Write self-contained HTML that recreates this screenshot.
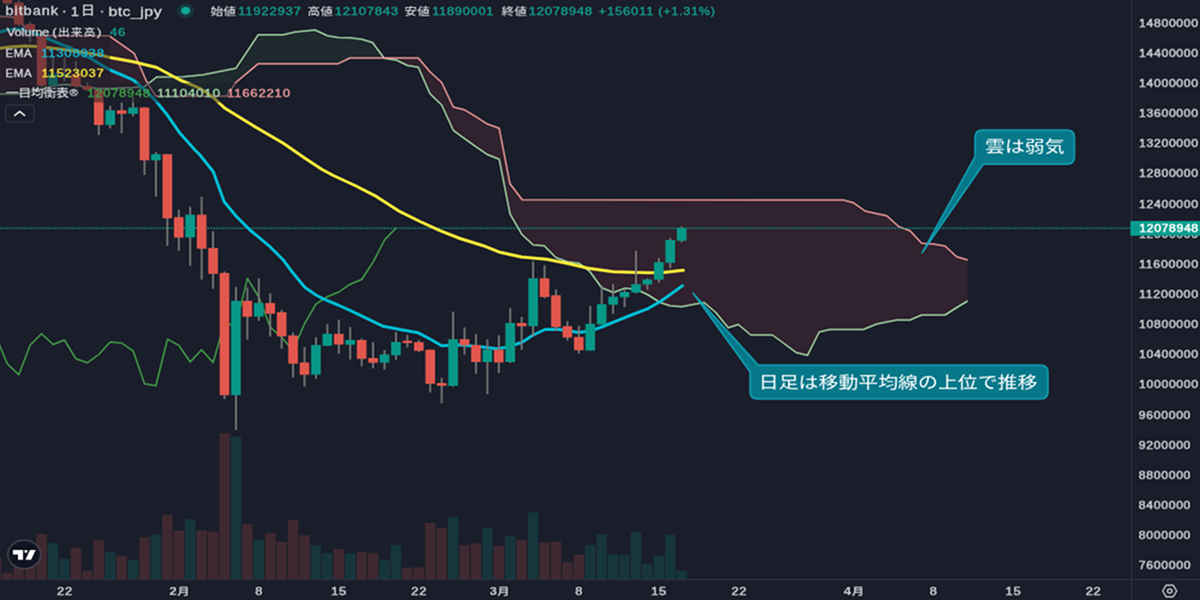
<!DOCTYPE html>
<html lang="ja">
<head>
<meta charset="utf-8">
<title>bitbank · 1日 · btc_jpy</title>
<style>
html,body{margin:0;padding:0;background:#1a1e2a;}
body{width:1200px;height:600px;overflow:hidden;font-family:"Liberation Sans","Noto Sans CJK JP",sans-serif;}
svg{display:block;}
text{white-space:pre;}
</style>
</head>
<body>
<svg width="1200" height="600" viewBox="0 0 1200 600">
<defs><clipPath id="pane"><rect x="-30" y="-30" width="1161" height="609"/></clipPath>
<filter id="soft" filterUnits="userSpaceOnUse" x="-30" y="-30" width="1260" height="660" color-interpolation-filters="sRGB">
<feConvolveMatrix in="SourceGraphic" order="5" kernelMatrix="0.00810 -0.02250 -0.06120 -0.02250 0.00810 -0.02250 0.06250 0.17000 0.06250 -0.02250 -0.06120 0.17000 0.46240 0.17000 -0.06120 -0.02250 0.06250 0.17000 0.06250 -0.02250 0.00810 -0.02250 -0.06120 -0.02250 0.00810" divisor="1" edgeMode="duplicate" preserveAlpha="true"/>
</filter></defs>
<g id="root" filter="url(#soft)">
<rect x="-30" y="-30" width="1260" height="660" fill="#1a1e2a"/>
<g id="chart" clip-path="url(#pane)">
<rect x="-9.30" y="557.0" width="10.4" height="22.0" fill="#3f2931"/>
<rect x="2.13" y="573.0" width="10.4" height="6.0" fill="#3f2931"/>
<rect x="13.56" y="566.0" width="10.4" height="13.0" fill="#3f2931"/>
<rect x="24.99" y="566.0" width="10.4" height="13.0" fill="#3f2931"/>
<rect x="36.42" y="534.0" width="10.4" height="45.0" fill="#3f2931"/>
<rect x="47.85" y="543.0" width="10.4" height="36.0" fill="#17353d"/>
<rect x="59.28" y="559.0" width="10.4" height="20.0" fill="#17353d"/>
<rect x="70.71" y="547.8" width="10.4" height="31.2" fill="#3f2931"/>
<rect x="82.14" y="571.0" width="10.4" height="8.0" fill="#3f2931"/>
<rect x="93.57" y="540.3" width="10.4" height="38.7" fill="#3f2931"/>
<rect x="105.00" y="552.0" width="10.4" height="27.0" fill="#17353d"/>
<rect x="116.43" y="556.2" width="10.4" height="22.8" fill="#3f2931"/>
<rect x="127.86" y="560.0" width="10.4" height="19.0" fill="#17353d"/>
<rect x="139.29" y="537.3" width="10.4" height="41.7" fill="#3f2931"/>
<rect x="150.72" y="534.3" width="10.4" height="44.7" fill="#17353d"/>
<rect x="162.15" y="515.0" width="10.4" height="64.0" fill="#3f2931"/>
<rect x="173.58" y="530.7" width="10.4" height="48.3" fill="#3f2931"/>
<rect x="185.01" y="519.3" width="10.4" height="59.7" fill="#17353d"/>
<rect x="196.44" y="530.3" width="10.4" height="48.7" fill="#3f2931"/>
<rect x="207.87" y="531.7" width="10.4" height="47.3" fill="#3f2931"/>
<rect x="219.30" y="433.3" width="10.4" height="145.7" fill="#3f2931"/>
<rect x="230.73" y="436.7" width="10.4" height="142.3" fill="#17353d"/>
<rect x="242.16" y="524.3" width="10.4" height="54.7" fill="#3f2931"/>
<rect x="253.59" y="540.0" width="10.4" height="39.0" fill="#17353d"/>
<rect x="265.02" y="533.3" width="10.4" height="45.7" fill="#3f2931"/>
<rect x="276.45" y="541.7" width="10.4" height="37.3" fill="#3f2931"/>
<rect x="287.88" y="520.0" width="10.4" height="59.0" fill="#3f2931"/>
<rect x="299.31" y="535.3" width="10.4" height="43.7" fill="#3f2931"/>
<rect x="310.74" y="545.7" width="10.4" height="33.3" fill="#17353d"/>
<rect x="322.17" y="553.0" width="10.4" height="26.0" fill="#17353d"/>
<rect x="333.60" y="549.0" width="10.4" height="30.0" fill="#3f2931"/>
<rect x="345.03" y="553.3" width="10.4" height="25.7" fill="#17353d"/>
<rect x="356.46" y="552.0" width="10.4" height="27.0" fill="#3f2931"/>
<rect x="367.89" y="553.3" width="10.4" height="25.7" fill="#3f2931"/>
<rect x="379.32" y="559.7" width="10.4" height="19.3" fill="#17353d"/>
<rect x="390.75" y="545.0" width="10.4" height="34.0" fill="#17353d"/>
<rect x="402.18" y="567.7" width="10.4" height="11.3" fill="#3f2931"/>
<rect x="413.61" y="567.3" width="10.4" height="11.7" fill="#3f2931"/>
<rect x="425.04" y="523.0" width="10.4" height="56.0" fill="#3f2931"/>
<rect x="436.47" y="528.0" width="10.4" height="51.0" fill="#3f2931"/>
<rect x="447.90" y="517.0" width="10.4" height="62.0" fill="#17353d"/>
<rect x="459.33" y="545.0" width="10.4" height="34.0" fill="#3f2931"/>
<rect x="470.76" y="543.3" width="10.4" height="35.7" fill="#3f2931"/>
<rect x="482.19" y="527.7" width="10.4" height="51.3" fill="#17353d"/>
<rect x="493.62" y="546.0" width="10.4" height="33.0" fill="#3f2931"/>
<rect x="505.05" y="536.0" width="10.4" height="43.0" fill="#17353d"/>
<rect x="516.48" y="540.0" width="10.4" height="39.0" fill="#3f2931"/>
<rect x="527.91" y="512.3" width="10.4" height="66.7" fill="#17353d"/>
<rect x="539.34" y="542.3" width="10.4" height="36.7" fill="#3f2931"/>
<rect x="550.77" y="541.7" width="10.4" height="37.3" fill="#3f2931"/>
<rect x="562.20" y="562.3" width="10.4" height="16.7" fill="#3f2931"/>
<rect x="573.63" y="554.7" width="10.4" height="24.3" fill="#3f2931"/>
<rect x="585.06" y="545.0" width="10.4" height="34.0" fill="#17353d"/>
<rect x="596.49" y="534.3" width="10.4" height="44.7" fill="#17353d"/>
<rect x="607.92" y="554.3" width="10.4" height="24.7" fill="#17353d"/>
<rect x="619.35" y="554.7" width="10.4" height="24.3" fill="#17353d"/>
<rect x="630.78" y="532.0" width="10.4" height="47.0" fill="#17353d"/>
<rect x="642.21" y="563.7" width="10.4" height="15.3" fill="#17353d"/>
<rect x="653.64" y="556.0" width="10.4" height="23.0" fill="#17353d"/>
<rect x="665.07" y="534.7" width="10.4" height="44.3" fill="#17353d"/>
<rect x="676.50" y="570.7" width="10.4" height="8.3" fill="#17353d"/>
<polygon points="-5.0,94.0 13.0,94.0 18.8,94.0 25.0,92.9 30.3,92.0 36.0,90.5 41.7,89.0 53.1,86.0 64.5,84.5 76.0,85.0 87.4,87.5 98.8,88.5 109.2,88.5 110.3,88.5 121.7,88.0 133.1,87.5 134.2,87.4 144.5,86.7 146.7,85.0 148.1,83.9 148.1,83.9 146.7,81.7 144.5,76.7 134.2,53.3 133.1,52.5 121.7,44.6 110.3,36.6 109.2,35.8 98.8,35.8 87.4,35.8 76.0,35.8 64.5,35.8 53.1,35.8 41.7,35.8 36.0,35.8 30.3,31.0 25.0,27.0 18.8,21.0 13.0,17.0 -5.0,16.0" fill="#30222e"/>
<polygon points="148.1,83.9 155.8,77.7 156.7,77.0 183.3,76.7 203.3,74.7 226.7,70.1 235.8,68.3 258.3,34.7 283.3,34.7 295.0,32.0 315.0,30.0 327.5,35.8 338.3,37.5 350.0,37.8 361.7,39.2 372.5,42.5 384.0,58.0 384.0,58.0 372.5,58.0 361.7,58.0 350.0,58.0 338.3,63.7 327.5,63.7 315.0,63.7 295.0,63.7 283.3,63.7 258.3,63.7 235.8,82.5 226.7,96.3 203.3,96.3 183.3,96.3 156.7,96.3 155.8,96.3 148.1,83.9" fill="#1f2a2e"/>
<polygon points="384.0,58.0 384.2,58.3 396.7,60.3 407.5,65.5 418.3,67.2 430.0,93.7 441.7,105.0 453.3,130.3 464.2,138.3 475.8,146.7 486.7,154.2 499.2,159.2 510.0,213.8 521.7,234.2 522.2,234.7 533.3,245.0 544.2,245.8 555.8,257.5 567.5,261.7 579.2,263.3 590.0,271.7 601.7,287.8 613.3,292.5 625.0,288.3 636.0,289.3 647.4,294.5 660.0,302.5 670.0,305.8 681.7,306.7 693.0,304.5 704.2,302.5 715.8,312.5 728.3,327.8 738.3,324.5 750.8,335.0 772.5,335.0 784.6,344.0 796.7,352.8 807.5,355.3 819.2,332.0 830.0,329.5 843.3,329.5 853.3,329.5 863.3,329.5 865.0,328.8 876.0,324.3 876.7,324.0 886.7,322.0 896.7,320.0 899.0,320.0 910.0,320.0 921.7,315.0 933.3,315.0 945.0,315.0 956.0,308.0 956.7,307.6 967.7,301.0 967.7,260.0 956.7,256.7 956.0,256.1 945.0,246.0 933.3,244.0 921.7,243.3 910.0,230.7 899.0,226.7 896.7,224.6 886.7,215.7 876.7,213.6 876.0,213.5 865.0,211.0 863.3,209.8 853.3,202.7 843.3,200.0 830.0,200.0 819.2,200.0 807.5,200.0 796.7,200.0 784.6,199.9 772.5,199.9 750.8,199.9 738.3,199.9 728.3,199.9 715.8,199.9 704.2,199.9 693.0,199.9 681.7,199.8 670.0,199.8 660.0,199.8 647.4,199.8 636.0,199.8 625.0,199.8 613.3,199.8 601.7,199.8 590.0,199.8 579.2,199.8 567.5,199.7 555.8,199.7 544.2,199.7 533.3,199.7 522.2,199.7 521.7,199.0 510.0,183.8 499.2,128.3 486.7,123.7 475.8,116.7 464.2,109.7 453.3,107.0 441.7,82.5 430.0,71.7 418.3,58.0 407.5,58.0 396.7,58.0 384.2,58.0 384.0,58.0" fill="#30222e"/>
<polyline points="-5.0,94.0 18.8,94.0 30.3,92.0 41.7,89.0 53.1,86.0 64.5,84.5 76.0,85.0 87.4,87.5 98.8,88.5 110.3,88.5 121.7,88.0 133.1,87.5 144.5,86.7 156.7,77.0 183.3,76.7 203.3,74.7 235.8,68.3 258.3,34.7 283.3,34.7 295.0,32.0 315.0,30.0 327.5,35.8 338.3,37.5 350.0,37.8 361.7,39.2 372.5,42.5 384.2,58.3 396.7,60.3 407.5,65.5 418.3,67.2 430.0,93.7 441.7,105.0 453.3,130.3 464.2,138.3 475.8,146.7 486.7,154.2 499.2,159.2 510.0,213.8 521.7,234.2 533.3,245.0 544.2,245.8 555.8,257.5 567.5,261.7 579.2,263.3 590.0,271.7 601.7,287.8 613.3,292.5 625.0,288.3 636.0,289.3 647.4,294.5 660.0,302.5 670.0,305.8 681.7,306.7 693.0,304.5 704.2,302.5 715.8,312.5 728.3,327.8 738.3,324.5 750.8,335.0 772.5,335.0 784.6,344.0 796.7,352.8 807.5,355.3 819.2,332.0 830.0,329.5 863.3,329.5 876.7,324.0 896.7,320.0 910.0,320.0 921.7,315.0 945.0,315.0 956.0,308.0 967.7,301.0" fill="none" stroke="#a5d6a7" stroke-width="1.5" stroke-linejoin="round"/>
<polyline points="-5.0,16.0 13.0,17.0 18.8,21.0 25.0,27.0 30.3,31.0 36.0,35.8 109.2,35.8 134.2,53.3 146.7,81.7 155.8,96.3 226.7,96.3 235.8,82.5 258.3,63.7 338.3,63.7 350.0,58.0 418.3,58.0 430.0,71.7 441.7,82.5 453.3,107.0 464.2,109.7 475.8,116.7 486.7,123.7 499.2,128.3 510.0,183.8 522.2,199.7 843.3,200.0 853.3,202.7 865.0,211.0 876.0,213.5 886.7,215.7 899.0,226.7 910.0,230.7 921.7,243.3 933.3,244.0 945.0,246.0 956.7,256.7 967.7,260.0" fill="none" stroke="#ef9a9a" stroke-width="1.5" stroke-linejoin="round"/>
<polyline points="-15.5,313.7 -4.1,336.3 7.3,363.7 18.8,374.7 30.2,345.0 41.6,333.8 53.1,344.5 64.5,340.0 75.9,358.8 87.3,362.8 98.8,354.5 110.2,342.0 121.6,343.0 133.1,350.8 144.5,383.8 155.9,385.8 167.4,339.2 178.8,345.3 190.2,362.0 201.6,349.7 213.1,362.5 224.5,323.0 235.9,326.3 247.4,278.3 258.8,297.0 270.2,327.0 281.7,337.5 293.1,350.3 304.5,323.8 315.9,304.2 327.4,296.7 338.8,292.0 350.2,284.2 361.7,279.5 373.1,262.2 384.5,240.0 396.0,228.0" fill="none" stroke="#43a047" stroke-width="1.5" stroke-linejoin="round"/>
<line x1="-29.65" y1="228.25" x2="1129.5" y2="228.25" stroke="#129a8d" stroke-width="1.6" stroke-dasharray="1.5 1.5"/>
<polyline points="-3.0,33.3 0.0,32.0 5.0,30.6 10.0,29.8 15.0,29.2 22.0,29.2 33.0,32.4 47.0,38.5 64.0,45.5 70.0,47.5 83.3,55.0 90.0,58.0 99.0,63.5 110.0,70.0 122.0,75.0 133.3,80.0 145.0,90.0 150.0,95.0 156.0,101.0 166.7,114.2 180.0,133.3 195.0,150.0 200.0,155.0 213.3,171.7 224.2,201.7 236.0,216.0 250.0,230.0 270.0,246.7 283.3,260.0 293.0,273.0 305.0,287.5 316.0,295.0 323.3,298.8 338.0,305.0 350.0,310.4 366.7,318.3 383.3,326.3 400.0,329.5 418.3,332.8 430.0,339.0 441.7,345.8 458.3,344.7 470.0,345.8 487.0,347.5 496.7,348.8 505.0,347.5 510.0,346.0 521.7,342.5 533.3,335.0 545.0,329.5 556.7,329.2 567.0,330.5 578.3,332.5 590.0,331.0 601.7,327.0 616.7,320.8 630.0,315.5 646.7,309.2 660.0,301.7 671.0,294.0 682.5,285.8" fill="none" stroke="#00bcd4" stroke-width="3" stroke-linejoin="round" stroke-linecap="round"/>
<polyline points="-3.0,48.6 0.0,48.3 10.0,47.0 25.0,46.0 37.0,46.5 60.0,49.0 80.0,52.0 100.0,55.0 110.0,57.5 133.3,61.7 156.7,67.5 180.0,80.0 200.0,88.3 213.3,97.5 225.0,108.3 255.0,126.7 283.3,143.3 305.0,158.3 321.7,169.2 333.3,175.5 355.0,185.5 376.7,196.7 400.0,211.7 420.0,221.5 440.0,230.7 460.0,238.5 483.3,245.7 500.0,252.3 521.7,257.0 546.7,259.2 566.7,263.3 588.3,268.3 613.3,271.7 646.7,272.8 663.3,272.5 683.3,270.3" fill="none" stroke="#ffeb3b" stroke-width="3" stroke-linejoin="round" stroke-linecap="round"/>
<rect x="6.43" y="-10.0" width="1.8" height="15.0" fill="#787878"/>
<rect x="2.53" y="-10.0" width="9.6" height="13.5" fill="#e2574d"/>
<rect x="17.86" y="0.0" width="1.8" height="26.0" fill="#787878"/>
<rect x="13.96" y="2.5" width="9.6" height="22.0" fill="#e2574d"/>
<rect x="29.29" y="22.0" width="1.8" height="20.0" fill="#787878"/>
<rect x="25.39" y="24.0" width="9.6" height="6.7" fill="#e2574d"/>
<rect x="40.72" y="34.0" width="1.8" height="53.0" fill="#787878"/>
<rect x="36.82" y="36.0" width="9.6" height="49.5" fill="#e2574d"/>
<rect x="52.15" y="57.0" width="1.8" height="30.0" fill="#787878"/>
<rect x="48.25" y="73.5" width="9.6" height="12.0" fill="#089888"/>
<rect x="63.58" y="57.0" width="1.8" height="24.0" fill="#787878"/>
<rect x="59.68" y="74.0" width="9.6" height="2.0" fill="#089888"/>
<rect x="75.01" y="61.0" width="1.8" height="27.0" fill="#787878"/>
<rect x="71.11" y="74.0" width="9.6" height="12.5" fill="#e2574d"/>
<rect x="86.44" y="82.0" width="1.8" height="9.0" fill="#787878"/>
<rect x="82.54" y="86.0" width="9.6" height="4.0" fill="#e2574d"/>
<rect x="97.87" y="88.0" width="1.8" height="47.0" fill="#787878"/>
<rect x="93.97" y="89.5" width="9.6" height="35.5" fill="#e2574d"/>
<rect x="109.30" y="105.8" width="1.8" height="22.5" fill="#787878"/>
<rect x="105.40" y="110.3" width="9.6" height="14.7" fill="#089888"/>
<rect x="120.73" y="102.5" width="1.8" height="30.8" fill="#787878"/>
<rect x="116.83" y="110.3" width="9.6" height="3.5" fill="#e2574d"/>
<rect x="132.16" y="96.7" width="1.8" height="19.6" fill="#787878"/>
<rect x="128.26" y="107.5" width="9.6" height="6.3" fill="#089888"/>
<rect x="143.59" y="107.5" width="1.8" height="67.5" fill="#787878"/>
<rect x="139.69" y="107.5" width="9.6" height="52.8" fill="#e2574d"/>
<rect x="155.02" y="152.0" width="1.8" height="44.7" fill="#787878"/>
<rect x="151.12" y="154.2" width="9.6" height="6.1" fill="#089888"/>
<rect x="166.45" y="154.2" width="1.8" height="91.6" fill="#787878"/>
<rect x="162.55" y="154.2" width="9.6" height="64.1" fill="#e2574d"/>
<rect x="177.88" y="209.7" width="1.8" height="41.1" fill="#787878"/>
<rect x="173.98" y="217.2" width="9.6" height="20.4" fill="#e2574d"/>
<rect x="189.31" y="206.7" width="1.8" height="59.1" fill="#787878"/>
<rect x="185.41" y="214.7" width="9.6" height="22.8" fill="#089888"/>
<rect x="200.74" y="196.7" width="1.8" height="83.0" fill="#787878"/>
<rect x="196.84" y="214.7" width="9.6" height="34.0" fill="#e2574d"/>
<rect x="212.17" y="231.3" width="1.8" height="57.4" fill="#787878"/>
<rect x="208.27" y="248.0" width="9.6" height="25.8" fill="#e2574d"/>
<rect x="223.60" y="271.3" width="1.8" height="127.7" fill="#787878"/>
<rect x="219.70" y="273.0" width="9.6" height="122.2" fill="#e2574d"/>
<rect x="235.03" y="287.0" width="1.8" height="143.0" fill="#787878"/>
<rect x="231.13" y="300.8" width="9.6" height="94.4" fill="#089888"/>
<rect x="246.46" y="287.5" width="1.8" height="52.2" fill="#787878"/>
<rect x="242.56" y="300.8" width="9.6" height="15.9" fill="#e2574d"/>
<rect x="257.89" y="278.3" width="1.8" height="42.5" fill="#787878"/>
<rect x="253.99" y="303.0" width="9.6" height="13.7" fill="#089888"/>
<rect x="269.32" y="293.3" width="1.8" height="43.4" fill="#787878"/>
<rect x="265.42" y="303.0" width="9.6" height="10.7" fill="#e2574d"/>
<rect x="280.75" y="309.7" width="1.8" height="39.1" fill="#787878"/>
<rect x="276.85" y="312.2" width="9.6" height="24.1" fill="#e2574d"/>
<rect x="292.18" y="332.5" width="1.8" height="45.0" fill="#787878"/>
<rect x="288.28" y="335.5" width="9.6" height="28.2" fill="#e2574d"/>
<rect x="303.61" y="347.0" width="1.8" height="39.7" fill="#787878"/>
<rect x="299.71" y="362.5" width="9.6" height="12.2" fill="#e2574d"/>
<rect x="315.04" y="337.2" width="1.8" height="41.5" fill="#787878"/>
<rect x="311.14" y="345.0" width="9.6" height="29.7" fill="#089888"/>
<rect x="326.47" y="324.2" width="1.8" height="21.6" fill="#787878"/>
<rect x="322.57" y="333.8" width="9.6" height="12.0" fill="#089888"/>
<rect x="337.90" y="319.7" width="1.8" height="34.1" fill="#787878"/>
<rect x="334.00" y="333.8" width="9.6" height="10.7" fill="#e2574d"/>
<rect x="349.33" y="327.0" width="1.8" height="32.5" fill="#787878"/>
<rect x="345.43" y="340.0" width="9.6" height="4.7" fill="#089888"/>
<rect x="360.76" y="338.3" width="1.8" height="28.0" fill="#787878"/>
<rect x="356.86" y="340.0" width="9.6" height="18.8" fill="#e2574d"/>
<rect x="372.19" y="342.2" width="1.8" height="26.1" fill="#787878"/>
<rect x="368.29" y="358.0" width="9.6" height="4.8" fill="#e2574d"/>
<rect x="383.62" y="350.0" width="1.8" height="19.7" fill="#787878"/>
<rect x="379.72" y="354.5" width="9.6" height="8.1" fill="#089888"/>
<rect x="395.05" y="332.0" width="1.8" height="27.7" fill="#787878"/>
<rect x="391.15" y="342.0" width="9.6" height="13.3" fill="#089888"/>
<rect x="406.48" y="334.7" width="1.8" height="12.8" fill="#787878"/>
<rect x="402.58" y="340.8" width="9.6" height="2.2" fill="#e2574d"/>
<rect x="417.91" y="340.0" width="1.8" height="12.0" fill="#787878"/>
<rect x="414.01" y="342.2" width="9.6" height="8.6" fill="#e2574d"/>
<rect x="429.34" y="349.7" width="1.8" height="42.8" fill="#787878"/>
<rect x="425.44" y="349.7" width="9.6" height="34.1" fill="#e2574d"/>
<rect x="440.77" y="377.8" width="1.8" height="25.5" fill="#787878"/>
<rect x="436.87" y="383.0" width="9.6" height="2.8" fill="#e2574d"/>
<rect x="452.20" y="311.7" width="1.8" height="75.0" fill="#787878"/>
<rect x="448.30" y="339.2" width="9.6" height="46.6" fill="#089888"/>
<rect x="463.63" y="327.5" width="1.8" height="27.2" fill="#787878"/>
<rect x="459.73" y="339.2" width="9.6" height="6.1" fill="#e2574d"/>
<rect x="475.06" y="334.2" width="1.8" height="39.5" fill="#787878"/>
<rect x="471.16" y="345.0" width="9.6" height="17.0" fill="#e2574d"/>
<rect x="486.49" y="339.2" width="1.8" height="55.0" fill="#787878"/>
<rect x="482.59" y="349.7" width="9.6" height="12.3" fill="#089888"/>
<rect x="497.92" y="335.3" width="1.8" height="37.7" fill="#787878"/>
<rect x="494.02" y="349.7" width="9.6" height="12.8" fill="#e2574d"/>
<rect x="509.35" y="308.0" width="1.8" height="55.0" fill="#787878"/>
<rect x="505.45" y="323.0" width="9.6" height="39.0" fill="#089888"/>
<rect x="520.78" y="317.0" width="1.8" height="33.0" fill="#787878"/>
<rect x="516.88" y="323.0" width="9.6" height="3.3" fill="#e2574d"/>
<rect x="532.21" y="261.3" width="1.8" height="75.7" fill="#787878"/>
<rect x="528.31" y="278.3" width="9.6" height="47.9" fill="#089888"/>
<rect x="543.64" y="265.3" width="1.8" height="33.0" fill="#787878"/>
<rect x="539.74" y="278.3" width="9.6" height="18.7" fill="#e2574d"/>
<rect x="555.07" y="289.5" width="1.8" height="41.3" fill="#787878"/>
<rect x="551.17" y="295.3" width="9.6" height="31.7" fill="#e2574d"/>
<rect x="566.50" y="321.2" width="1.8" height="19.3" fill="#787878"/>
<rect x="562.60" y="326.2" width="9.6" height="11.3" fill="#e2574d"/>
<rect x="577.93" y="325.8" width="1.8" height="27.9" fill="#787878"/>
<rect x="574.03" y="337.0" width="9.6" height="13.3" fill="#e2574d"/>
<rect x="589.36" y="305.8" width="1.8" height="44.7" fill="#787878"/>
<rect x="585.46" y="323.8" width="9.6" height="26.7" fill="#089888"/>
<rect x="600.79" y="285.8" width="1.8" height="38.7" fill="#787878"/>
<rect x="596.89" y="304.2" width="9.6" height="20.3" fill="#089888"/>
<rect x="612.22" y="284.2" width="1.8" height="29.6" fill="#787878"/>
<rect x="608.32" y="296.7" width="9.6" height="8.0" fill="#089888"/>
<rect x="623.65" y="290.0" width="1.8" height="17.2" fill="#787878"/>
<rect x="619.75" y="292.0" width="9.6" height="5.2" fill="#089888"/>
<rect x="635.08" y="250.8" width="1.8" height="42.5" fill="#787878"/>
<rect x="631.18" y="284.2" width="9.6" height="8.3" fill="#089888"/>
<rect x="646.51" y="278.3" width="1.8" height="11.4" fill="#787878"/>
<rect x="642.61" y="279.5" width="9.6" height="5.0" fill="#089888"/>
<rect x="657.94" y="258.0" width="1.8" height="25.0" fill="#787878"/>
<rect x="654.04" y="262.2" width="9.6" height="17.5" fill="#089888"/>
<rect x="669.37" y="238.0" width="1.8" height="30.3" fill="#787878"/>
<rect x="665.47" y="240.0" width="9.6" height="22.8" fill="#089888"/>
<rect x="680.80" y="226.3" width="1.8" height="16.2" fill="#787878"/>
<rect x="676.90" y="228.0" width="9.6" height="12.8" fill="#089888"/>
</g>
<g id="callouts">
<path d="M922.0,253.0 L975.0,156.7 L975.0,137.5 Q975.0,130.0 982.5,130.0 L1067.0,130.0 Q1074.5,130.0 1074.5,137.5 L1074.5,156.8 Q1074.5,164.3 1067.0,164.3 L983.3,164.3 Z" fill="#009bb0" fill-opacity="0.72" stroke="#12a8be" stroke-opacity="0.9" stroke-width="1.5" stroke-linejoin="round"/>
<path d="M693.0,293.0 L758.3,365.1 L1040.5,365.1 Q1048.0,365.1 1048.0,372.6 L1048.0,391.5 Q1048.0,399.0 1040.5,399.0 L757.5,399.0 Q750.0,399.0 750.0,391.5 L750.0,371.7 Z" fill="#009bb0" fill-opacity="0.72" stroke="#12a8be" stroke-opacity="0.9" stroke-width="1.5" stroke-linejoin="round"/>
<text transform="translate(985.00,152.33) scale(1,0.8126)" font-family="&quot;Noto Sans CJK JP&quot;,sans-serif" font-size="19.95" font-weight="normal" fill="#ffffff">雲は弱気</text>
<text transform="translate(758.81,387.57) scale(1,0.8278)" font-family="&quot;Noto Sans CJK JP&quot;,sans-serif" font-size="19.92" font-weight="normal" fill="#ffffff">日足は移動平均線の上位で推移</text>
</g>
<g id="logo">
<ellipse cx="24.2" cy="554.4" rx="16.4" ry="14.2" fill="#121421" stroke="#4a4d57" stroke-width="1.2"/>
<polygon points="13,550 23,550 23,559.8 18,559.8 18,554.5 13,554.5" fill="#ffffff"/>
<ellipse cx="25.9" cy="551.4" rx="1.6" ry="1.4" fill="#ffffff"/>
<polygon points="30,550 35.6,550 31.1,559.8 25.5,559.8" fill="#ffffff"/>
</g>
<g id="legend">
<rect x="-30" y="-30" width="140" height="113" fill="#1a1e2a" fill-opacity="0.5"/>
<rect x="-30" y="83" width="323" height="19.5" fill="#1a1e2a" fill-opacity="0.5"/>
<text transform="scale(1,0.8400)" fill="#d2d3d6"><tspan x="5.49" y="18.33" font-family="&quot;Liberation Sans&quot;,sans-serif" font-size="14.54" font-weight="normal" letter-spacing="0.935" stroke="#d2d3d6" stroke-width="0.40" stroke-linejoin="round">bitbank</tspan><tspan x="57.44" y="17.86" font-family="&quot;Liberation Sans&quot;,sans-serif" font-size="15.50" font-weight="normal" stroke="#d2d3d6" stroke-width="0.40" stroke-linejoin="round"> · </tspan><tspan x="70.73" y="18.48" font-family="&quot;Liberation Sans&quot;,sans-serif" font-size="14.73" font-weight="normal" stroke="#d2d3d6" stroke-width="0.40" stroke-linejoin="round">1</tspan><tspan x="80.74" y="18.20" font-family="&quot;Noto Sans CJK JP&quot;,sans-serif" font-size="14.37" font-weight="500">日</tspan><tspan x="95.14" y="17.86" font-family="&quot;Liberation Sans&quot;,sans-serif" font-size="15.50" font-weight="normal" stroke="#d2d3d6" stroke-width="0.40" stroke-linejoin="round"> · </tspan><tspan x="108.41" y="19.31" font-family="&quot;Liberation Sans&quot;,sans-serif" font-size="15.88" font-weight="normal" letter-spacing="0.486" stroke="#d2d3d6" stroke-width="0.40" stroke-linejoin="round">btc_jpy</tspan></text>
<ellipse cx="185.6" cy="10.6" rx="8.6" ry="7.4" fill="#17363d"/>
<ellipse cx="185.6" cy="10.6" rx="4.4" ry="3.8" fill="#0fa596"/>
<text transform="translate(210.59,15.02) scale(1,0.8061)" font-family="&quot;Noto Sans CJK JP&quot;,sans-serif" font-size="12.80" font-weight="500" fill="#d2d3d6">始値</text>
<text transform="translate(238.14,15.01) scale(1,0.8261)" font-family="&quot;Liberation Sans&quot;,sans-serif" font-size="13.20" font-weight="normal" fill="#12a08f" letter-spacing="0.726" stroke="#12a08f" stroke-width="0.40" stroke-linejoin="round">11922937</text>
<text transform="translate(307.44,15.03) scale(1,0.8024)" font-family="&quot;Noto Sans CJK JP&quot;,sans-serif" font-size="12.72" font-weight="500" fill="#d2d3d6">高値</text>
<text transform="translate(334.74,15.01) scale(1,0.8316)" font-family="&quot;Liberation Sans&quot;,sans-serif" font-size="13.11" font-weight="normal" fill="#12a08f" letter-spacing="0.721" stroke="#12a08f" stroke-width="0.40" stroke-linejoin="round">12107843</text>
<text transform="translate(404.57,15.11) scale(1,0.8271)" font-family="&quot;Noto Sans CJK JP&quot;,sans-serif" font-size="12.60" font-weight="500" fill="#d2d3d6">安値</text>
<text transform="translate(432.16,15.01) scale(1,0.8454)" font-family="&quot;Liberation Sans&quot;,sans-serif" font-size="12.89" font-weight="normal" fill="#12a08f" letter-spacing="0.709" stroke="#12a08f" stroke-width="0.40" stroke-linejoin="round">11890001</text>
<text transform="translate(501.55,15.02) scale(1,0.8144)" font-family="&quot;Noto Sans CJK JP&quot;,sans-serif" font-size="12.67" font-weight="500" fill="#d2d3d6">終値</text>
<text transform="translate(528.74,15.01) scale(1,0.8316)" font-family="&quot;Liberation Sans&quot;,sans-serif" font-size="13.11" font-weight="normal" fill="#12a08f" letter-spacing="0.721" stroke="#12a08f" stroke-width="0.40" stroke-linejoin="round">12078948</text>
<text transform="translate(598.53,15.01) scale(1,0.8276)" font-family="&quot;Liberation Sans&quot;,sans-serif" font-size="13.17" font-weight="normal" fill="#12a08f" letter-spacing="0.724" stroke="#12a08f" stroke-width="0.40" stroke-linejoin="round">+156011</text>
<text transform="translate(658.30,14.74) scale(1,0.8922)" font-family="&quot;Liberation Sans&quot;,sans-serif" font-size="12.69" font-weight="normal" fill="#12a08f" letter-spacing="0.698" stroke="#12a08f" stroke-width="0.40" stroke-linejoin="round">(+1.31%)</text>
<text transform="scale(1,0.8400)" fill="#d2d3d6"><tspan x="6.66" y="43.11" font-family="&quot;Liberation Sans&quot;,sans-serif" font-size="12.93" font-weight="normal" letter-spacing="-0.099" stroke="#d2d3d6" stroke-width="0.40" stroke-linejoin="round">Volume</tspan><tspan x="48.62" y="42.54" font-family="&quot;Liberation Sans&quot;,sans-serif" font-size="12.97" font-weight="normal" stroke="#d2d3d6" stroke-width="0.40" stroke-linejoin="round"> (</tspan><tspan x="58.02" y="43.17" font-family="&quot;Noto Sans CJK JP&quot;,sans-serif" font-size="11.78" font-weight="500" letter-spacing="1.071">出来高</tspan><tspan x="96.93" y="42.54" font-family="&quot;Liberation Sans&quot;,sans-serif" font-size="12.97" font-weight="normal" stroke="#d2d3d6" stroke-width="0.40" stroke-linejoin="round">)</tspan></text>
<text transform="translate(110.10,36.31) scale(1,0.8690)" font-family="&quot;Liberation Sans&quot;,sans-serif" font-size="13.03" font-weight="normal" fill="#12a08f" letter-spacing="0.717" stroke="#12a08f" stroke-width="0.40" stroke-linejoin="round">46</text>
<text transform="translate(5.44,56.52) scale(1,0.8879)" font-family="&quot;Liberation Sans&quot;,sans-serif" font-size="11.49" font-weight="normal" fill="#d2d3d6" letter-spacing="0.632" stroke="#d2d3d6" stroke-width="0.40" stroke-linejoin="round">EMA</text>
<text transform="translate(40.93,56.62) scale(1,0.7894)" font-family="&quot;Liberation Sans&quot;,sans-serif" font-size="13.28" font-weight="normal" fill="#19b9d0" letter-spacing="0.730" stroke="#19b9d0" stroke-width="0.40" stroke-linejoin="round">11308938</text>
<text transform="translate(5.44,76.52) scale(1,0.9005)" font-family="&quot;Liberation Sans&quot;,sans-serif" font-size="11.49" font-weight="normal" fill="#d2d3d6" letter-spacing="0.632" stroke="#d2d3d6" stroke-width="0.40" stroke-linejoin="round">EMA</text>
<text transform="translate(41.44,76.61) scale(1,0.8114)" font-family="&quot;Liberation Sans&quot;,sans-serif" font-size="13.09" font-weight="normal" fill="#f5e13a" letter-spacing="0.720" stroke="#f5e13a" stroke-width="0.40" stroke-linejoin="round">11523037</text>
<text transform="scale(1,0.8400)" fill="#d2d3d6"><tspan x="5.67" y="115.65" font-family="&quot;Noto Sans CJK JP&quot;,sans-serif" font-size="13.16" font-weight="500" letter-spacing="-0.600">一目均衡表</tspan><tspan x="69.51" y="114.12" font-family="&quot;Liberation Sans&quot;,sans-serif" font-size="11.60" font-weight="normal" stroke="#d2d3d6" stroke-width="0.30" stroke-linejoin="round">®</tspan></text>
<text transform="translate(87.25,96.61) scale(1,0.8167)" font-family="&quot;Liberation Sans&quot;,sans-serif" font-size="13.00" font-weight="normal" fill="#43a047" letter-spacing="0.715" stroke="#43a047" stroke-width="0.40" stroke-linejoin="round">12078948</text>
<text transform="translate(156.92,96.61) scale(1,0.7872)" font-family="&quot;Liberation Sans&quot;,sans-serif" font-size="13.49" font-weight="normal" fill="#a5d6a7" letter-spacing="0.742" stroke="#a5d6a7" stroke-width="0.40" stroke-linejoin="round">11104010</text>
<text transform="translate(226.93,96.61) scale(1,0.8000)" font-family="&quot;Liberation Sans&quot;,sans-serif" font-size="13.28" font-weight="normal" fill="#ef9a9a" letter-spacing="0.730" stroke="#ef9a9a" stroke-width="0.40" stroke-linejoin="round">11662210</text>
<rect x="5.5" y="105" width="28.5" height="17" rx="3" ry="3" fill="none" stroke="#3a3d49" stroke-width="1"/>
<polyline points="14.8,115.4 19.7,111.5 24.6,115.4" fill="none" stroke="#e0e0e0" stroke-width="1.6" stroke-linecap="round" stroke-linejoin="round"/>
</g>
<g id="axes">
<rect x="1131" y="-30" width="1" height="660" fill="#2e323e"/>
<rect x="-30" y="579" width="1260" height="1" fill="#2e323e"/>
<text transform="translate(1139.09,26.64) scale(1,0.8514)" font-family="&quot;Liberation Sans&quot;,sans-serif" font-size="12.21" font-weight="normal" fill="#c6c8cc" letter-spacing="0.671" stroke="#c6c8cc" stroke-width="0.60" stroke-linejoin="round">14800000</text>
<text transform="translate(1139.09,56.78) scale(1,0.8514)" font-family="&quot;Liberation Sans&quot;,sans-serif" font-size="12.21" font-weight="normal" fill="#c6c8cc" letter-spacing="0.671" stroke="#c6c8cc" stroke-width="0.60" stroke-linejoin="round">14400000</text>
<text transform="translate(1139.09,86.93) scale(1,0.8514)" font-family="&quot;Liberation Sans&quot;,sans-serif" font-size="12.21" font-weight="normal" fill="#c6c8cc" letter-spacing="0.671" stroke="#c6c8cc" stroke-width="0.60" stroke-linejoin="round">14000000</text>
<text transform="translate(1139.09,117.08) scale(1,0.8514)" font-family="&quot;Liberation Sans&quot;,sans-serif" font-size="12.21" font-weight="normal" fill="#c6c8cc" letter-spacing="0.671" stroke="#c6c8cc" stroke-width="0.60" stroke-linejoin="round">13600000</text>
<text transform="translate(1139.09,147.22) scale(1,0.8514)" font-family="&quot;Liberation Sans&quot;,sans-serif" font-size="12.21" font-weight="normal" fill="#c6c8cc" letter-spacing="0.671" stroke="#c6c8cc" stroke-width="0.60" stroke-linejoin="round">13200000</text>
<text transform="translate(1139.09,177.37) scale(1,0.8514)" font-family="&quot;Liberation Sans&quot;,sans-serif" font-size="12.21" font-weight="normal" fill="#c6c8cc" letter-spacing="0.671" stroke="#c6c8cc" stroke-width="0.60" stroke-linejoin="round">12800000</text>
<text transform="translate(1139.09,207.52) scale(1,0.8514)" font-family="&quot;Liberation Sans&quot;,sans-serif" font-size="12.21" font-weight="normal" fill="#c6c8cc" letter-spacing="0.671" stroke="#c6c8cc" stroke-width="0.60" stroke-linejoin="round">12400000</text>
<text transform="translate(1139.09,237.67) scale(1,0.8514)" font-family="&quot;Liberation Sans&quot;,sans-serif" font-size="12.21" font-weight="normal" fill="#c6c8cc" letter-spacing="0.671" stroke="#c6c8cc" stroke-width="0.60" stroke-linejoin="round">12000000</text>
<text transform="translate(1139.07,267.81) scale(1,0.8381)" font-family="&quot;Liberation Sans&quot;,sans-serif" font-size="12.40" font-weight="normal" fill="#c6c8cc" letter-spacing="0.682" stroke="#c6c8cc" stroke-width="0.60" stroke-linejoin="round">11600000</text>
<text transform="translate(1139.07,297.96) scale(1,0.8381)" font-family="&quot;Liberation Sans&quot;,sans-serif" font-size="12.40" font-weight="normal" fill="#c6c8cc" letter-spacing="0.682" stroke="#c6c8cc" stroke-width="0.60" stroke-linejoin="round">11200000</text>
<text transform="translate(1139.09,328.11) scale(1,0.8514)" font-family="&quot;Liberation Sans&quot;,sans-serif" font-size="12.21" font-weight="normal" fill="#c6c8cc" letter-spacing="0.671" stroke="#c6c8cc" stroke-width="0.60" stroke-linejoin="round">10800000</text>
<text transform="translate(1139.09,358.25) scale(1,0.8514)" font-family="&quot;Liberation Sans&quot;,sans-serif" font-size="12.21" font-weight="normal" fill="#c6c8cc" letter-spacing="0.671" stroke="#c6c8cc" stroke-width="0.60" stroke-linejoin="round">10400000</text>
<text transform="translate(1139.09,388.40) scale(1,0.8514)" font-family="&quot;Liberation Sans&quot;,sans-serif" font-size="12.21" font-weight="normal" fill="#c6c8cc" letter-spacing="0.671" stroke="#c6c8cc" stroke-width="0.60" stroke-linejoin="round">10000000</text>
<text transform="translate(1138.85,418.55) scale(1,0.8499)" font-family="&quot;Liberation Sans&quot;,sans-serif" font-size="12.23" font-weight="normal" fill="#c6c8cc" letter-spacing="0.673" stroke="#c6c8cc" stroke-width="0.60" stroke-linejoin="round">9600000</text>
<text transform="translate(1138.85,448.69) scale(1,0.8499)" font-family="&quot;Liberation Sans&quot;,sans-serif" font-size="12.23" font-weight="normal" fill="#c6c8cc" letter-spacing="0.673" stroke="#c6c8cc" stroke-width="0.60" stroke-linejoin="round">9200000</text>
<text transform="translate(1138.85,478.84) scale(1,0.8499)" font-family="&quot;Liberation Sans&quot;,sans-serif" font-size="12.23" font-weight="normal" fill="#c6c8cc" letter-spacing="0.673" stroke="#c6c8cc" stroke-width="0.60" stroke-linejoin="round">8800000</text>
<text transform="translate(1138.85,508.99) scale(1,0.8499)" font-family="&quot;Liberation Sans&quot;,sans-serif" font-size="12.23" font-weight="normal" fill="#c6c8cc" letter-spacing="0.673" stroke="#c6c8cc" stroke-width="0.60" stroke-linejoin="round">8400000</text>
<text transform="translate(1138.85,539.14) scale(1,0.8499)" font-family="&quot;Liberation Sans&quot;,sans-serif" font-size="12.23" font-weight="normal" fill="#c6c8cc" letter-spacing="0.673" stroke="#c6c8cc" stroke-width="0.60" stroke-linejoin="round">8000000</text>
<text transform="translate(1138.73,569.28) scale(1,0.8478)" font-family="&quot;Liberation Sans&quot;,sans-serif" font-size="12.26" font-weight="normal" fill="#c6c8cc" letter-spacing="0.674" stroke="#c6c8cc" stroke-width="0.60" stroke-linejoin="round">7600000</text>
<rect x="1130.4" y="221" width="100" height="14.7" fill="#0a9d8f"/>
<text transform="translate(1139.29,231.84) scale(1,0.8414)" font-family="&quot;Liberation Sans&quot;,sans-serif" font-size="12.19" font-weight="normal" fill="#ffffff" letter-spacing="0.670" stroke="#ffffff" stroke-width="0.60" stroke-linejoin="round">12078948</text>
<text transform="translate(57.02,595.04) scale(1,0.7950)" font-family="&quot;Liberation Sans&quot;,sans-serif" font-size="12.90" font-weight="normal" fill="#c6c8cc" letter-spacing="0.710" stroke="#c6c8cc" stroke-width="0.60" stroke-linejoin="round">22</text>
<text transform="scale(1,0.8400)" fill="#c6c8cc"><tspan x="169.53" y="708.57" font-family="&quot;Liberation Sans&quot;,sans-serif" font-size="12.93" font-weight="bold" stroke="#c6c8cc" stroke-width="0.20" stroke-linejoin="round">2</tspan><tspan x="177.32" y="707.98" font-family="&quot;Noto Sans CJK JP&quot;,sans-serif" font-size="12.43" font-weight="bold">月</tspan></text>
<text transform="translate(255.32,594.94) scale(1,0.7932)" font-family="&quot;Liberation Sans&quot;,sans-serif" font-size="12.75" font-weight="normal" fill="#c6c8cc" letter-spacing="0.701" stroke="#c6c8cc" stroke-width="0.60" stroke-linejoin="round">8</text>
<text transform="translate(331.08,594.94) scale(1,0.7876)" font-family="&quot;Liberation Sans&quot;,sans-serif" font-size="13.02" font-weight="normal" fill="#c6c8cc" letter-spacing="0.716" stroke="#c6c8cc" stroke-width="0.60" stroke-linejoin="round">15</text>
<text transform="translate(411.35,595.04) scale(1,0.7950)" font-family="&quot;Liberation Sans&quot;,sans-serif" font-size="12.90" font-weight="normal" fill="#c6c8cc" letter-spacing="0.710" stroke="#c6c8cc" stroke-width="0.60" stroke-linejoin="round">22</text>
<text transform="scale(1,0.8400)" fill="#c6c8cc"><tspan x="489.68" y="708.44" font-family="&quot;Liberation Sans&quot;,sans-serif" font-size="12.74" font-weight="bold" stroke="#c6c8cc" stroke-width="0.20" stroke-linejoin="round">3</tspan><tspan x="497.36" y="707.98" font-family="&quot;Noto Sans CJK JP&quot;,sans-serif" font-size="12.43" font-weight="bold">月</tspan></text>
<text transform="translate(575.36,594.94) scale(1,0.7932)" font-family="&quot;Liberation Sans&quot;,sans-serif" font-size="12.75" font-weight="normal" fill="#c6c8cc" letter-spacing="0.701" stroke="#c6c8cc" stroke-width="0.60" stroke-linejoin="round">8</text>
<text transform="translate(651.12,594.94) scale(1,0.7876)" font-family="&quot;Liberation Sans&quot;,sans-serif" font-size="13.02" font-weight="normal" fill="#c6c8cc" letter-spacing="0.716" stroke="#c6c8cc" stroke-width="0.60" stroke-linejoin="round">15</text>
<text transform="translate(731.39,595.04) scale(1,0.7950)" font-family="&quot;Liberation Sans&quot;,sans-serif" font-size="12.90" font-weight="normal" fill="#c6c8cc" letter-spacing="0.710" stroke="#c6c8cc" stroke-width="0.60" stroke-linejoin="round">22</text>
<text transform="scale(1,0.8400)" fill="#c6c8cc"><tspan x="843.71" y="708.57" font-family="&quot;Liberation Sans&quot;,sans-serif" font-size="13.11" font-weight="bold" stroke="#c6c8cc" stroke-width="0.20" stroke-linejoin="round">4</tspan><tspan x="851.69" y="707.98" font-family="&quot;Noto Sans CJK JP&quot;,sans-serif" font-size="12.43" font-weight="bold">月</tspan></text>
<text transform="translate(929.69,594.94) scale(1,0.7932)" font-family="&quot;Liberation Sans&quot;,sans-serif" font-size="12.75" font-weight="normal" fill="#c6c8cc" letter-spacing="0.701" stroke="#c6c8cc" stroke-width="0.60" stroke-linejoin="round">8</text>
<text transform="translate(1005.45,594.94) scale(1,0.7876)" font-family="&quot;Liberation Sans&quot;,sans-serif" font-size="13.02" font-weight="normal" fill="#c6c8cc" letter-spacing="0.716" stroke="#c6c8cc" stroke-width="0.60" stroke-linejoin="round">15</text>
<text transform="translate(1085.72,595.04) scale(1,0.7950)" font-family="&quot;Liberation Sans&quot;,sans-serif" font-size="12.90" font-weight="normal" fill="#c6c8cc" letter-spacing="0.710" stroke="#c6c8cc" stroke-width="0.60" stroke-linejoin="round">22</text>
<polygon points="1162.7,591 1166,585.3 1173.3,585.3 1176.7,591 1173.3,596.7 1166,596.7" fill="none" stroke="#c4c6cb" stroke-width="1.4" stroke-linejoin="round"/>
<ellipse cx="1169.7" cy="591" rx="2.3" ry="2.0" fill="none" stroke="#c4c6cb" stroke-width="1.4"/>
</g>
</g>
</svg>
</body>
</html>
